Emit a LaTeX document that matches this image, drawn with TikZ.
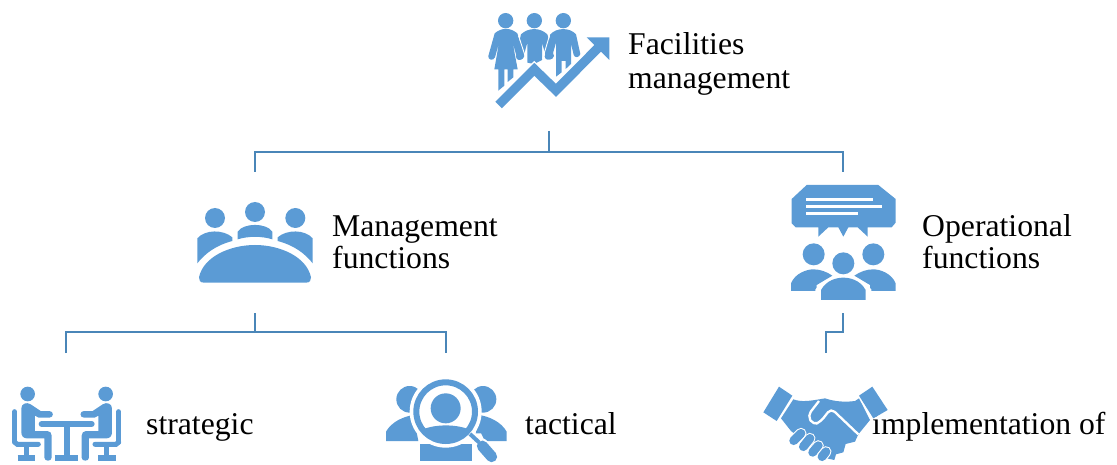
\documentclass[tikz,border=0pt]{standalone}
\usepackage{fontspec}
\setmainfont{Liberation Serif}
\definecolor{ic}{HTML}{5B9BD5}
\definecolor{ln}{HTML}{4A86B8}
\tikzset{
  lbl/.style={align=left,inner sep=0pt,font=\fontsize{31.7}{34}\selectfont,text=black},
  conn/.style={draw=ln,line width=2.7pt},
  zoomed/.style={shift={#1},scale=1/3}
}
\begin{document}
\begin{tikzpicture}[x=1pt,y=-1pt]
\useasboundingbox (0,0) rectangle (1117,465);
% ---------- labels
\node[lbl,anchor=west] (fm) at (628,64) {Facilities\\management};
\node[lbl,anchor=west] (mf) at (332,242) {Management\\[-2pt]functions};
\node[lbl,anchor=west] (of) at (922,242) {Operational\\[-2pt]functions};
\node[lbl,anchor=base west] (st) at (146,434) {strategic};
\node[lbl,anchor=base west] (ta) at (525,434) {tactical};
\node[lbl,anchor=base west] (im) at (872,434) {implementation of};
% ---------- connector ports
\coordinate (fmOut) at (549,131);
\coordinate (fmBus) at (549,152);
\coordinate (mfIn) at (255,172);
\coordinate (ofIn) at (843,172);
\coordinate (mfOut) at (255,313);
\coordinate (mfBus) at (255,332);
\coordinate (stIn) at (66,353);
\coordinate (taIn) at (446,353);
\coordinate (ofOut) at (843,313);
\coordinate (ofBus) at (843,332);
\coordinate (imIn) at (826,353);
\draw[conn] (fmOut) -- (fmBus);
\draw[conn] (mfIn) |- (fmBus) -| (ofIn);
\draw[conn] (mfOut) -- (mfBus);
\draw[conn] (stIn) |- (mfBus) -| (taIn);
\draw[conn] (ofOut) -- (ofBus) -| (imIn);
% ---------- icon 1: people and rising arrow
\begin{scope}[zoomed={(470,0)}]
 \fill[ic] (107,62) circle (23) (193,62) circle (23) (280,62) circle (23);
 % woman
 \fill[ic] (74,100) .. controls (95,82) and (120,82) .. (142,100) -- (163,168)
   .. controls (160,182) and (142,182) .. (140,170) -- (128,128) -- (143,208) -- (130,208) -- (130,232) -- (113,246) -- (113,208) -- (103,208) -- (103,257) -- (85,272) -- (85,208) -- (73,208) -- (87,128)
   -- (75,172) .. controls (70,184) and (53,180) .. (55,168) -- cycle;
 % middle man
 \fill[ic] (153,103) .. controls (175,82) and (210,82) .. (232,103) -- (252,168)
   .. controls (248,182) and (232,182) .. (228,170) -- (216,128) -- (216,180) -- (193,192) -- (172,188) -- (172,128) -- (160,172)
   .. controls (154,184) and (138,182) .. (138,170) -- cycle;
 % right man
 \fill[ic] (241,103) .. controls (260,82) and (300,82) .. (318,103) -- (331,162)
   .. controls (328,174) and (314,174) .. (311,165) -- (303,130) -- (303,192) -- (287,207) -- (287,183) -- (275,183) -- (275,217) -- (258,230) -- (258,128) -- (246,170)
   .. controls (240,182) and (226,182) .. (224,170) -- cycle;
 \draw[white,line width=0.9pt] (146,108) -- (168,176) (238,108) -- (218,176);
 % arrow
 \draw[white,line width=12pt,miter limit=10] (86,315) -- (193,208) -- (258,271) -- (388,140);
 \draw[ic,line width=9.3pt,miter limit=10] (86,315) -- (193,208) -- (258,271) -- (388,140);
 \fill[ic] (350,112) -- (418,112) -- (418,180) -- cycle;
\end{scope}
% ---------- icon 2: meeting table
\begin{scope}[zoomed={(180,190)}]
 \fill[ic] (105,84) circle (30) (225,66) circle (30) (346,84) circle (30);
 \fill[ic] (72,278) .. controls (60,278) and (56,270) .. (57,262) .. controls (70,200) and (150,165) .. (225,165)
   .. controls (300,165) and (380,200) .. (393,262) .. controls (394,270) and (390,278) .. (378,278) -- cycle;
 \fill[ic] (173,148) -- (173,125) .. controls (190,98) and (260,98) .. (277,125) -- (277,148) .. controls (245,138) and (205,138) .. (173,148) -- cycle;
 \fill[ic] (52,220) -- (52,145) .. controls (75,118) and (130,118) .. (157,142) -- (157,153) .. controls (110,165) and (75,190) .. (52,220) -- cycle;
 \fill[ic] (398,220) -- (398,145) .. controls (375,118) and (320,118) .. (293,142) -- (293,153) .. controls (340,165) and (375,190) .. (398,220) -- cycle;
\end{scope}
% ---------- icon 3: speech bubble above three people
\begin{scope}[zoomed={(775,175)}]
 \fill[ic] (95,30) -- (310,30) -- (362,72) -- (362,143) -- (350,157) -- (278,157) -- (278,185) -- (248,157) -- (220,157) -- (205,185) -- (190,157) -- (160,157) -- (130,185) -- (130,157) -- (62,157) -- (50,145) -- (50,72) -- cycle;
 \draw[white,line width=2.6pt] (93,73) -- (293,73) (93,94) -- (320,94) (93,116) -- (250,116);
 \fill[ic] (116,238) circle (33) (295,238) circle (33);
 \fill[ic] (48,348) -- (48,325) .. controls (60,295) and (95,283) .. (115,283) .. controls (135,283) and (155,290) .. (172,302) -- (125,330) -- (125,348) -- cycle;
 \fill[ic] (362,348) -- (362,325) .. controls (350,295) and (315,283) .. (295,283) .. controls (275,283) and (255,290) .. (238,302) -- (285,330) -- (285,348) -- cycle;
 \fill[white] (205,265) circle (41);
 \fill[ic] (205,265) circle (33);
 \draw[white,line width=2.6pt] (125,380) -- (125,345) .. controls (150,305) and (260,305) .. (285,345) -- (285,380);
 \fill[ic] (138,375) -- (138,345) .. controls (155,315) and (185,308) .. (205,308) .. controls (225,308) and (255,315) .. (272,345) -- (272,375) -- cycle;
\end{scope}
% ---------- icon 4: two people at a table
\begin{scope}[zoomed={(0,375)}]
 \foreach \m/\o in {1/0,-1/400}{
 \begin{scope}[shift={(\o,0)},xscale=\m]
  \fill[ic] (83,57) circle (22);
  \fill[ic] (64,100) .. controls (64,86) and (80,80) .. (92,88) -- (122,108) -- (148,108) .. controls (162,108) and (162,128) .. (148,128) -- (116,128) -- (105,122) -- (105,168) -- (142,168) .. controls (150,168) and (155,174) .. (155,182) -- (155,248) .. controls (155,260) and (133,260) .. (133,248) -- (133,190) -- (80,190) .. controls (70,190) and (64,182) .. (64,172) -- cycle;
  \draw[ic,line width=5pt,line cap=round] (44,110) -- (44,200);
  \draw[ic,line width=5pt,line cap=round,rounded corners=2pt] (44,200) -- (46,208) -- (115,208);
  \draw[ic,line width=5pt] (80,208) -- (80,250);
  \draw[ic,line width=6pt] (53,250) -- (105,250);
 \end{scope}}
 \draw[ic,line width=6pt,line cap=round] (125,147) -- (275,147);
 \draw[ic,line width=6pt] (200,147) -- (200,250);
 \draw[ic,line width=6pt] (165,250) -- (235,250);
\end{scope}
% ---------- icon 5: magnifier over people
\begin{scope}[zoomed={(375,370)}]
 \fill[ic] (104,88) circle (40) (324,88) circle (40);
 \fill[ic] (33,213) -- (33,185) .. controls (50,155) and (85,140) .. (115,135) -- (130,213) -- cycle;
 \fill[ic] (395,213) -- (395,185) .. controls (378,155) and (343,140) .. (313,135) -- (298,213) -- cycle;
 \fill[ic] (135,222) rectangle (290,272);
 \fill[white] (212,125) circle (108);
 \draw[ic,line width=6pt] (212,125) circle (88);
 \fill[ic] (212,115) circle (45);
 \begin{scope}
  \clip (212,125) circle (85);
  \fill[ic] (130,185) .. controls (170,160) and (255,160) .. (295,185) -- (295,225) -- (130,225) -- cycle;
 \end{scope}
 \draw[white,line width=13.5pt,line cap=round] (320,225) -- (350,260);
 \fill[white] (290,190) -- (318,190) -- (330,215) -- (310,225) -- cycle;
 \draw[ic,line width=4pt] (285,192) -- (312,217);
 \draw[ic,line width=11pt,line cap=round] (322,228) -- (350,260);
\end{scope}
% ---------- icon 6: handshake
\begin{scope}[zoomed={(755,375)}]
 \fill[ic] (72,35) -- (112,62) -- (65,138) -- (25,112) -- cycle;
 \fill[ic] (352,35) -- (312,62) -- (355,130) -- (398,105) -- cycle;
 \fill[ic] (115,73) .. controls (140,82) and (165,78) .. (210,70) .. controls (240,80) and (270,82) .. (300,78) -- (312,70) -- (345,135) -- (310,178) -- (300,200) -- (272,207) -- (265,232) -- (243,238) -- (238,255) -- (215,250) -- (150,200) -- (108,168) -- (78,130) -- cycle;
 \draw[white,line width=2.3pt,line join=round,rounded corners=5pt] (192,78) -- (158,122) -- (175,150) -- (197,140) -- (228,100) -- (310,178);
 \foreach \a/\b/\c/\d in {116/197/138/175,145/215/165/190,173/232/190/212,201/245/213/230}{
  \draw[white,line width=11pt,line cap=round] (\a,\b) -- (\c,\d);
  \draw[ic,line width=8.8pt,line cap=round] (\a,\b) -- (\c,\d);
 }
\end{scope}
\end{tikzpicture}
\end{document}
